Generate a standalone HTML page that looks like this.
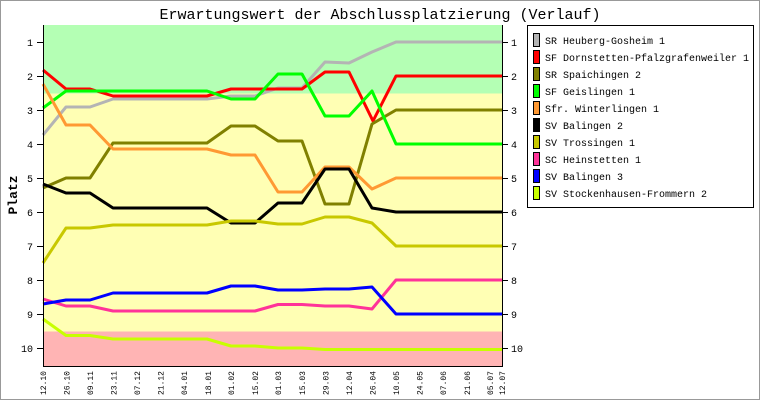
<!DOCTYPE html>
<html><head><meta charset="utf-8"><style>
html,body{margin:0;padding:0;background:#fff}
svg{display:block}
text{font-family:"Liberation Mono",monospace}
</style></head><body>
<svg width="760" height="400" xmlns="http://www.w3.org/2000/svg">
<rect x="0.5" y="0.5" width="759" height="399" fill="#fff" stroke="#999"/>
<text x="380" y="19" font-size="15" text-anchor="middle">Erwartungswert der Abschlussplatzierung (Verlauf)</text>
<rect x="43" y="25" width="459" height="341" fill="#ffffb4"/>
<rect x="43" y="25" width="459" height="68.5" fill="#b4ffb4"/>
<rect x="43" y="331.5" width="459" height="34.5" fill="#ffb4b4"/>
<g fill="none" stroke-width="3" stroke-linejoin="round">
<polyline stroke="#b4b4b4" points="43,135 66,107 90,107 113,99 207,99 231,96 255,96 278,88 302,88 325,62 349,63 372,52 396,42 502,42"/>
<polyline stroke="#ff0000" points="43,70 66,89 90,89 113,96 207,96 231,89 302,89 325,72 349,72 373,121 396,76 502,76"/>
<polyline stroke="#808000" points="43,188 66,178 90,178 113,143 207,143 231,126 255,126 278,141 302,141 325,204 349,204 372,124 396,110 502,110"/>
<polyline stroke="#00ff00" points="43,108 66,91 207,91 231,99 255,99 278,74 302,74 325,116 349,116 372,91 396,144 502,144"/>
<polyline stroke="#ff9933" points="43,84 66,125 90,125 113,149 207,149 231,155 255,155 278,192 302,192 325,167 349,167 372,189 396,178 502,178"/>
<polyline stroke="#000000" points="43,184 66,193 90,193 113,208 207,208 231,223 255,223 278,203 302,203 325,169 349,169 372,208 396,212 502,212"/>
<polyline stroke="#c8c800" points="43,263 66,228 90,228 113,225 207,225 231,221 255,221 278,224 302,224 325,217 349,217 372,223 396,246 502,246"/>
<polyline stroke="#ff3399" points="43,299 66,306 90,306 113,311 255,311 278,304.5 302,304.5 325,306 349,306 372,309 396,280 502,280"/>
<polyline stroke="#0000ff" points="43,304 66,300 90,300 113,293 207,293 231,286 255,286 278,290 302,290 325,289 349,289 372,287 396,314 502,314"/>
<polyline stroke="#c8ff00" points="43,319 66,335.5 90,335.5 113,339 207,339 231,346 255,346 278,348 302,348 325,349.5 502,349.5"/>
</g>
<g stroke="#000" stroke-width="1">
<line x1="43.5" y1="25" x2="43.5" y2="366"/>
<line x1="502.5" y1="25" x2="502.5" y2="366"/>
<line x1="43" y1="366.5" x2="503" y2="366.5"/>
</g>
<g font-size="10">
<g text-anchor="end">
<text x="33" y="46">1</text><text x="33" y="80">2</text><text x="33" y="114">3</text><text x="33" y="148">4</text><text x="33" y="182">5</text><text x="33" y="216">6</text><text x="33" y="250">7</text><text x="33" y="284">8</text><text x="33" y="318">9</text><text x="33" y="352">10</text>
</g>
<g>
<text x="511" y="46">1</text><text x="511" y="80">2</text><text x="511" y="114">3</text><text x="511" y="148">4</text><text x="511" y="182">5</text><text x="511" y="216">6</text><text x="511" y="250">7</text><text x="511" y="284">8</text><text x="511" y="318">9</text><text x="511" y="352">10</text>
</g>
</g>
<g stroke="#000">
<path d="M37 42.5h6M37 76.5h6M37 110.5h6M37 144.5h6M37 178.5h6M37 212.5h6M37 246.5h6M37 280.5h6M37 314.5h6M37 348.5h6"/>
<path d="M502 42.5h6M502 76.5h6M502 110.5h6M502 144.5h6M502 178.5h6M502 212.5h6M502 246.5h6M502 280.5h6M502 314.5h6M502 348.5h6"/>
</g>
<text transform="translate(17,195) rotate(-90)" font-size="13" font-weight="bold" text-anchor="middle">Platz</text>
<g font-size="8" text-anchor="end">
<text transform="translate(46,371) rotate(-90)">12.10</text>
<text transform="translate(69.5,371) rotate(-90)">26.10</text>
<text transform="translate(93,371) rotate(-90)">09.11</text>
<text transform="translate(116.6,371) rotate(-90)">23.11</text>
<text transform="translate(140,371) rotate(-90)">07.12</text>
<text transform="translate(163.7,371) rotate(-90)">21.12</text>
<text transform="translate(187,371) rotate(-90)">04.01</text>
<text transform="translate(210.8,371) rotate(-90)">18.01</text>
<text transform="translate(234,371) rotate(-90)">01.02</text>
<text transform="translate(258,371) rotate(-90)">15.02</text>
<text transform="translate(281,371) rotate(-90)">01.03</text>
<text transform="translate(305,371) rotate(-90)">15.03</text>
<text transform="translate(328.5,371) rotate(-90)">29.03</text>
<text transform="translate(352,371) rotate(-90)">12.04</text>
<text transform="translate(375.6,371) rotate(-90)">26.04</text>
<text transform="translate(399,371) rotate(-90)">10.05</text>
<text transform="translate(422.6,371) rotate(-90)">24.05</text>
<text transform="translate(446,371) rotate(-90)">07.06</text>
<text transform="translate(469.8,371) rotate(-90)">21.06</text>
<text transform="translate(493,371) rotate(-90)">05.07</text>
<text transform="translate(505,371) rotate(-90)">12.07</text>
</g>
<rect x="527.5" y="25.5" width="226" height="182" fill="#fff" stroke="#000"/>
<g stroke="#000" stroke-width="1">
<rect x="533.5" y="33.5" width="6" height="13" fill="#b4b4b4"/>
<rect x="533.5" y="50.5" width="6" height="13" fill="#ff0000"/>
<rect x="533.5" y="67.5" width="6" height="13" fill="#808000"/>
<rect x="533.5" y="84.5" width="6" height="13" fill="#00ff00"/>
<rect x="533.5" y="101.5" width="6" height="13" fill="#ff9933"/>
<rect x="533.5" y="118.5" width="6" height="13" fill="#000000"/>
<rect x="533.5" y="135.5" width="6" height="13" fill="#c8c800"/>
<rect x="533.5" y="152.5" width="6" height="13" fill="#ff3399"/>
<rect x="533.5" y="169.5" width="6" height="13" fill="#0000ff"/>
<rect x="533.5" y="186.5" width="6" height="13" fill="#c8ff00"/>
</g>
<g font-size="10">
<text x="545" y="44">SR Heuberg-Gosheim 1</text>
<text x="545" y="61">SF Dornstetten-Pfalzgrafenweiler 1</text>
<text x="545" y="78">SR Spaichingen 2</text>
<text x="545" y="95">SF Geislingen 1</text>
<text x="545" y="112">Sfr. Winterlingen 1</text>
<text x="545" y="129">SV Balingen 2</text>
<text x="545" y="146">SV Trossingen 1</text>
<text x="545" y="163">SC Heinstetten 1</text>
<text x="545" y="180">SV Balingen 3</text>
<text x="545" y="197">SV Stockenhausen-Frommern 2</text>
</g>
</svg>
</body></html>
